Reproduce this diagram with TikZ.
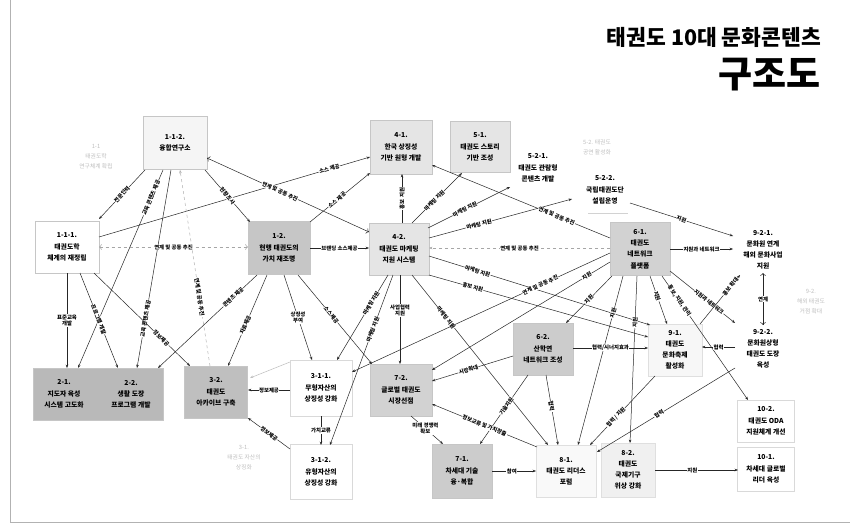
\documentclass[tikz,border=0pt]{standalone}
\usepackage{fontspec}
\setmainfont{Noto Sans CJK KR}
\usetikzlibrary{arrows.meta,calc}
\newcommand{\ndfont}{\fontsize{6.8}{11.2}\selectfont\bfseries}
\newcommand{\lbfont}{\fontsize{5.4}{6.2}\selectfont\bfseries}
\begin{document}
\begin{tikzpicture}[x=1pt,y=-1pt,
  box/.style={draw=gray!45,line width=0.4pt,align=center,font=\ndfont,inner sep=0pt},
  txt/.style={align=center,font=\ndfont,inner sep=0pt},
  grp/.style={align=center,font=\fontsize{5.8}{10}\selectfont,text=gray!50,inner sep=0pt},
  arr/.style={-{Stealth[length=3.4pt,width=2.6pt]},line width=0.5pt,draw=black!85},
  lbl/.style={font=\lbfont,fill=white,inner sep=0.5pt,sloped},
  hl/.style={font=\lbfont,fill=white,inner sep=0.5pt,align=center},
]
\useasboundingbox (0,0) rectangle (850,524);
\fill[white] (0,0) rectangle (850,524);
\draw[gray!60,line width=0.8pt] (10,0) -- (10,522.5) -- (850,522.5);

% title
\node[anchor=east,font=\fontsize{21.5}{24}\selectfont\bfseries,inner sep=0pt] (t1) at (821,37) {태권도 10대 문화콘텐츠};
\node[anchor=east,font=\fontsize{37}{40}\selectfont\bfseries,inner sep=0pt] (t2) at (821,75) {구조도};

% group labels (faint)
\node[grp] (g11) at (96,157) {1-1\\태권도학\\연구체계 확립};
\node[grp] (g52) at (597,147) {5-2. 태권도\\공연 활성화};
\node[grp] (g92) at (811,302) {9-2.\\해외 태권도\\거점 확대};
\node[grp] (g31) at (244,458) {3-1.\\태권도 자산의\\상징화};

% nodes
\node[box,fill=gray!8,minimum width=64pt,minimum height=53pt] (n112) at (175,143) {1-1-2.\\융합연구소};
\node[box,fill=white,minimum width=64pt,minimum height=52pt] (n111) at (67,247) {1-1-1.\\태권도학\\체계의 재정립};
\node[box,fill=gray!45,minimum width=62pt,minimum height=53pt] (n12) at (279,248) {1-2.\\현행 태권도의\\가치 재조명};
\node[box,fill=gray!20,minimum width=62pt,minimum height=54pt] (n41) at (401,147) {4-1.\\한국 상징성\\기반 원형 개발};
\node[box,fill=gray!20,minimum width=60pt,minimum height=51pt] (n51) at (480,147) {5-1.\\태권도 스토리\\기반 조성};
\node[txt] (n521) at (538,168) {5-2-1.\\태권도 관람형\\콘텐츠 개발};
\node[txt] (n522) at (605,190) {5-2-2.\\국립태권도단\\설립운영};
\draw[gray!35,line width=0.6pt] ($(n522)+(-17,23)$) -- ($(n522)+(23,23)$);
\node[box,fill=gray!20,minimum width=60pt,minimum height=52pt] (n42) at (399,249) {4-2.\\태권도 마케팅\\지원 시스템};
\node[box,fill=gray!35,minimum width=60pt,minimum height=53pt] (n61) at (640,249) {6-1.\\태권도\\네트워크\\플랫폼};
\node[txt] (n921) at (763,250) {9-2-1.\\문화원 연계\\해외 문화사업\\지원};
\node[txt] (n922) at (763,349) {9-2-2.\\문화원상형\\태권도 도장\\육성};
\node[box,fill=gray!40,minimum width=60pt,minimum height=52pt] (n62) at (543,349) {6-2.\\산학연\\네트워크 조성};
\node[box,fill=gray!6,draw=gray!25,minimum width=54pt,minimum height=52pt] (n91) at (675,350) {9-1.\\태권도\\문화축제\\활성화};
\node[box,fill=gray!55,minimum width=130pt,minimum height=52pt] (box23) at (98,394) {};
\node[txt,minimum width=64pt,minimum height=52pt] (n21) at (64,394) {2-1.\\지도자 육성\\시스템 고도화};
\node[txt,minimum width=64pt,minimum height=52pt] (n22) at (131,394) {2-2.\\생활 도장\\프로그램 개발};
\node[box,fill=gray!50,minimum width=63pt,minimum height=52pt] (n32) at (216,392) {3-2.\\태권도\\아카이브 구축};
\node[box,fill=white,draw=gray!30,minimum width=62pt,minimum height=56pt] (n311) at (321,388) {3-1-1.\\무형자산의\\상징성 강화};
\node[box,fill=white,draw=gray!30,minimum width=62pt,minimum height=55pt] (n312) at (321,472) {3-1-2.\\유형자산의\\상징성 강화};
\node[box,fill=gray!35,minimum width=62pt,minimum height=52pt] (n72) at (401,390) {7-2.\\글로벌 태권도\\시장선점};
\node[box,fill=gray!40,minimum width=60pt,minimum height=54pt] (n71) at (462,471) {7-1.\\차세대 기술\\융·복합};
\node[box,fill=gray!5,draw=gray!25,minimum width=60pt,minimum height=52pt] (n81) at (566,471) {8-1.\\태권도 리더스\\포럼};
\node[box,fill=gray!12,draw=gray!25,minimum width=54pt,minimum height=54pt] (n82) at (628,470) {8-2.\\태권도\\국제기구\\위상 강화};
\node[box,fill=white,draw=gray!30,minimum width=57pt,minimum height=42pt] (n102) at (766,421) {10-2.\\태권도 ODA\\지원체계 개선};
\node[box,fill=white,draw=gray!30,minimum width=57pt,minimum height=44pt] (n101) at (766,469) {10-1.\\차세대 글로벌\\리더 육성};

% connectors
\draw[arr] ($(n112)+(-30,27)$) -- ($(n111)+(32,-28)$) node[lbl,pos=.5]{전문인력};
\draw[arr] ($(n112)+(-12,27)$) -- ($(n21)+(14,-26)$) node[lbl,pos=.14]{교육 콘텐츠 제공};
\draw[arr] ($(n112)+(-4,27)$) -- ($(n22)+(6,-26)$) node[lbl,pos=.75]{교육 콘텐츠 제공};
\draw[arr] ($(n111)+(0,26)$) -- ($(n21)+(3,-26)$) node[hl,pos=.5]{표준교육\\개발};
\draw[arr] ($(n111)+(13,26)$) -- ($(n22)+(-13,-26)$) node[lbl,pos=.49]{프로그램 개발};
\draw[arr] ($(n111)+(27,26)$) -- ($(n32)+(-26,-26)$) node[lbl,pos=.7]{정보제공};
\draw[arr,<->,dashed,draw=gray!70] ($(n111)+(32,0)$) -- ($(n12)+(-31,-1)$) node[hl,pos=.5]{연계 및 공동 추진};
\draw[arr] ($(n111)+(32,-10)$) -- ($(n41)+(-31,10)$) node[lbl,pos=.85]{소스 제공};
\draw[arr,<->] ($(n112)+(32,15)$) -- ($(n42)+(-30,-17)$) node[lbl,pos=.45]{연계 및 공동 추진};
\draw[arr] ($(n112)+(30,27)$) -- ($(n12)+(-29,-26)$) node[lbl,pos=.5]{현황조사};
\draw[arr] ($(n12)+(31,-26)$) -- ($(n41)+(-31,26)$) node[lbl,pos=.45]{소스 제공};
\draw[arr] ($(n12)+(31,0)$) -- ($(n42)+(-30,-1)$) node[hl,pos=.5]{브랜딩 소스제공};
\draw[arr,dashed,draw=gray!60] ($(n32)+(-6,-26)$) -- ($(n112)+(5,27)$) node[lbl,pos=.35]{연계 및 공동 추진};
\draw[arr] ($(n12)+(-22,27)$) -- ($(n22)+(27,-26)$) node[lbl,pos=.24]{콘텐츠 제공};
\draw[arr] ($(n12)+(-12,27)$) -- ($(n32)+(12,-26)$) node[lbl,pos=.55]{자료제공};
\draw[arr] ($(n12)+(5,27)$) -- ($(n311)+(-9,-28)$) node[hl,pos=.5]{상징성\\부여};
\draw[arr] ($(n12)+(19,27)$) -- ($(n72)+(-29,-26)$) node[lbl,pos=.45]{소스제공};
\draw[arr] ($(n42)+(-11,26)$) -- ($(n311)+(16,-28)$) node[lbl,pos=.33]{마케팅 지원};
\draw[arr] ($(n42)+(-6,26)$) -- ($(n312)+(9,-27)$) node[lbl,pos=.32]{마케팅 지원};
\draw[arr] ($(n42)+(1,26)$) -- ($(n72)+(-1,-26)$) node[hl,pos=.4]{사업협력\\지원};
\draw[arr] ($(n42)+(13,26)$) -- ($(n81)+(-18,-26)$) node[lbl,pos=.25]{마케팅 지원};
\draw[arr] ($(n42)+(30,26)$) -- ($(n91)+(-27,-13)$) node[lbl,pos=.2]{홍보 지원};
\draw[arr] ($(n42)+(30,7)$) -- ($(n91)+(-25,-25)$) node[lbl,pos=.22]{마케팅 지원};
\draw[arr] ($(n42)+(3,-26)$) -- ($(n41)+(1,27)$) node[lbl,pos=.5]{홍보 지원};
\draw[arr] ($(n42)+(13,-26)$) -- ($(n51)+(-18,26)$) node[lbl,pos=.45]{마케팅 지원};
\draw[arr] ($(n42)+(29,-21)$) -- ($(n521)+(-28,19)$) node[lbl,pos=.45]{마케팅 지원};
\draw[arr] ($(n42)+(30,-11)$) -- ($(n522)+(-33,9)$) node[lbl,pos=.35]{마케팅 지원};
\draw[arr,dashed,draw=gray!70] ($(n61)+(-30,-1)$) -- ($(n42)+(30,-1)$) node[hl,pos=.5]{연계 및 공동 추진};
\draw[arr] ($(n61)+(-30,-11)$) -- ($(n41)+(31,18)$) node[lbl,pos=.3]{연계 및 공동 추진};
\draw[arr] ($(n522)+(25,13)$) -- ($(n921)+(-30,-14)$) node[lbl,pos=.5]{지원};
\draw[arr] ($(n61)+(30,0)$) -- ($(n921)+(-30,-1)$) node[hl,pos=.5]{지원과 네트워크};
\draw[arr] ($(n61)+(-30,13)$) -- ($(n72)+(31,-20)$) node[lbl,pos=.13]{지원};
\draw[arr] ($(n61)+(-30,4)$) -- ($(n311)+(31,-16)$) node[lbl,pos=.27]{연계 및 공동 추진};
\draw[arr] ($(n61)+(-28,27)$) -- ($(n62)+(23,-26)$) node[lbl,pos=.5]{지원};
\draw[arr] ($(n61)+(-17,27)$) -- ($(n81)+(12,-26)$) node[lbl,pos=.22]{지원};
\draw[arr] ($(n61)+(-3,27)$) -- ($(n82)+(2,-27)$) node[lbl,pos=.28]{지원};
\draw[arr] ($(n61)+(10,27)$) -- ($(n91)+(-8,-26)$) node[lbl,pos=.42]{지원};
\draw[arr] ($(n61)+(22,27)$) -- ($(n102)+(-18,-21)$) node[lbl,pos=.2]{홍보, 지원, 관리};
\draw[arr] ($(n61)+(30,22)$) -- ($(n922)+(-28,-26)$) node[lbl,pos=.6]{지원과 네트워크};
\draw[arr] ($(n91)+(25,-26)$) -- ($(n921)+(-23,25)$) node[lbl,pos=.76]{홍보 확대};
\draw[arr,<->] ($(n921)+(0,23)$) -- ($(n922)+(0,-24)$) node[hl,pos=.5]{연계};
\draw[arr] ($(n922)+(-28,-2)$) -- ($(n91)+(27,-3)$) node[hl,pos=.5]{협력};
\draw[arr] ($(n922)+(-28,19)$) -- ($(n81)+(31,-19)$) node[lbl,pos=.55]{협력};
\draw[arr] ($(n91)+(-20,26)$) -- ($(n81)+(24,-26)$) node[lbl,pos=.6]{협력 / 지원};
\draw[arr] ($(n62)+(30,-1)$) -- ($(n91)+(-27,-2)$) node[hl,pos=.5]{협력/시너지효과};
\draw[arr] ($(n62)+(-30,7)$) -- ($(n72)+(31,-9)$) node[lbl,pos=.55]{시장확대};
\draw[arr] ($(n62)+(3,26)$) -- ($(n81)+(-8,-26)$) node[lbl,pos=.45]{협력};
\draw[arr] ($(n62)+(-15,26)$) -- ($(n71)+(18,-27)$) node[lbl,pos=.45]{기술지원};
\draw[arr] ($(n72)+(10,26)$) -- ($(n71)+(-19,-27)$) node[hl,pos=.45]{미래 경쟁력\\확보};
\draw[arr] ($(n81)+(-29,-24)$) -- ($(n72)+(31,14)$) node[lbl,pos=.5]{정보교류 및 가치창출};
\draw[arr] ($(n71)+(30,0)$) -- ($(n81)+(-30,0)$) node[hl,pos=.45]{참여};
\draw[arr] ($(n82)+(27,0)$) -- ($(n101)+(-28,1)$) node[hl,pos=.45]{지원};
\draw[arr] ($(n311)+(-31,2)$) -- ($(n32)+(32,-2)$) node[hl,pos=.5]{정보제공};
\draw[arr,draw=gray!50] ($(n311)+(-31,-26)$) -- ($(n32)+(34,-14)$);
\draw[arr] ($(n312)+(-31,-23)$) -- ($(n32)+(32,26)$) node[lbl,pos=.5]{정보제공};
\draw[arr] ($(n311)+(0,28)$) -- ($(n312)+(0,-27)$) node[hl,pos=.5]{가치교류};
\end{tikzpicture}
\end{document}
